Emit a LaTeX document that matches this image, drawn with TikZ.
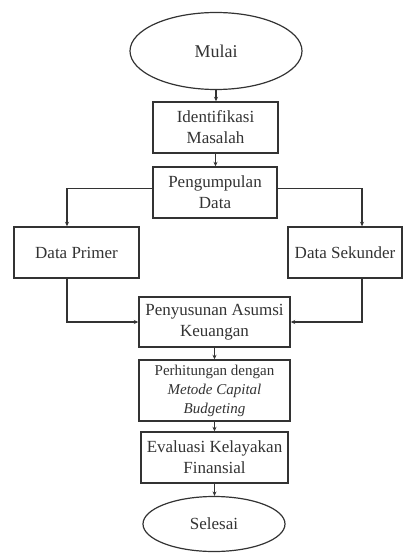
\documentclass[tikz,border=0pt]{standalone}
\usepackage{fontspec}
\setmainfont{Liberation Serif}
\usetikzlibrary{shapes.geometric,arrows.meta}
\definecolor{ink}{HTML}{333333}
\begin{document}
\begin{tikzpicture}[x=1pt,y=-1pt,
  box/.style={draw=ink,line width=1.4pt,rectangle,inner sep=1pt,align=center,text=ink,font=\fontsize{17}{21}\selectfont},
  oval/.style={draw=ink,line width=1.2pt,ellipse,inner sep=0pt,text=ink,font=\fontsize{18}{21}\selectfont},
  arr/.style={draw=ink,line width=1.2pt,-{Stealth[length=4.5pt,width=4pt]}}]
\useasboundingbox (0,0) rectangle (403,553);
\node[oval,minimum width=172,minimum height=77] (mulai) at (216,51) {Mulai};
\node[box,minimum width=125,minimum height=51] (ident) at (215.5,127.5) {Identifikasi\\Masalah};
\node[box,minimum width=124,minimum height=51] (peng) at (215,192.5) {Pengumpulan\\Data};
\node[box,minimum width=125,minimum height=51] (primer) at (76.5,252.5) {Data Primer};
\node[box,minimum width=114,minimum height=51] (sekunder) at (345,252.5) {Data Sekunder};
\node[box,minimum width=151,minimum height=50] (penyus) at (214.5,322) {Penyusunan Asumsi\\Keuangan};
\node[box,minimum width=151,minimum height=61,font=\fontsize{15}{19}\selectfont] (perhit) at (214.5,390.5) {Perhitungan dengan\\\textit{Metode Capital}\\\textit{Budgeting}};
\node[box,minimum width=147,minimum height=51] (eval) at (214.5,457.5) {Evaluasi Kelayakan\\Finansial};
\node[oval,minimum width=142,minimum height=55,font=\fontsize{17}{21}\selectfont] (selesai) at (214,524) {Selesai};
\draw[arr] (mulai.south) -- (ident.north -| mulai.south);
\draw[arr] (ident.south) -- (peng.north -| ident.south);
\draw[arr] ([yshift=4]peng.west) -| ([xshift=-9.5]primer.north);
\draw[arr] ([yshift=4]peng.east) -| ([xshift=17]sekunder.north);
\draw[arr] ([xshift=-9.5]primer.south) |- (penyus.west);
\draw[arr] ([xshift=17]sekunder.south) |- (penyus.east);
\draw[arr] (penyus.south) -- (perhit.north);
\draw[arr] (perhit.south) -- (eval.north -| perhit.south);
\draw[arr] (eval.south) -- (selesai.north -| eval.south);
\end{tikzpicture}
\end{document}
